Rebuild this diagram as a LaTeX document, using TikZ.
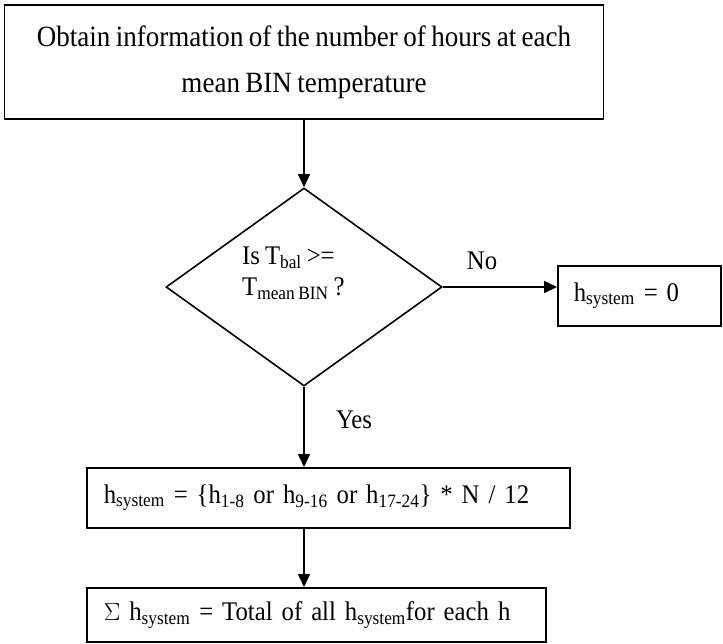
\documentclass[tikz,border=0pt]{standalone}
\usepackage{fontspec}
\setmainfont[FakeStretch=0.92,WordSpace=0.8]{Liberation Serif}
\usetikzlibrary{shapes.geometric,arrows.meta}
\newcommand\sbs[1]{\textsubscript{#1}}
\begin{document}
\begin{tikzpicture}[x=1bp,y=-1bp,
  box/.style={draw,line width=1.6bp,rectangle,inner ysep=0pt},
  arr/.style={line width=1.6bp,-{Triangle[length=13bp,width=12bp]}},
  lbl/.style={inner sep=0pt,font=\fontsize{27}{31}\selectfont}]
\useasboundingbox (0,0) rectangle (723,644);
\node[box, minimum width=599bp, minimum height=114bp, align=center, text depth=6bp,
  font=\fontsize{29.5}{46}\selectfont] (top) at (304,62)
  {Obtain information of the number of hours at each\\mean BIN temperature};
\node[draw,diamond,line width=1.6bp,minimum width=276bp,minimum height=198bp,inner sep=0pt] (d) at (304,287) {};
\node[lbl, anchor=west, align=left, font=\fontsize{27}{31}\selectfont] (q) at (242,273)
  {Is T\sbs{bal} >=\\T\sbs{mean BIN} ?};
\node[box, anchor=north west, minimum height=60bp, inner xsep=16bp, text width=131bp,
  align=left, font=\fontsize{27}{31}\selectfont] (r) at (557,265) {h\sbs{system} = 0};
\node[box, anchor=north west, minimum height=60bp, inner xsep=17bp, text width=449bp,
  align=left, font=\fontsize{27}{31}\selectfont] (b3) at (86,467)
  {h\sbs{system} = \{h\sbs{1-8} or h\sbs{9-16} or h\sbs{17-24}\} *\hspace{9bp}N / 12};
\node[box, anchor=north west, minimum height=54bp, inner xsep=17bp, text width=425bp,
  align=left, font=\fontsize{27}{31}\selectfont] (b4) at (86,587)
  {$\Sigma$ h\sbs{system} = Total of all h\sbs{system}for each h};
\draw[arr] (top.south -| d.north) -- (d.north);
\draw[arr] (d.east) -- (d.east -| r.west);
\draw[arr] (d.south) -- (d.south |- b3.north);
\draw[arr] (d.south |- b3.south) -- (d.south |- b4.north);
\node[lbl, anchor=base] (no) at (482,269) {No};
\node[lbl, anchor=base] (yes) at (354,428) {Yes};
\end{tikzpicture}
\end{document}
